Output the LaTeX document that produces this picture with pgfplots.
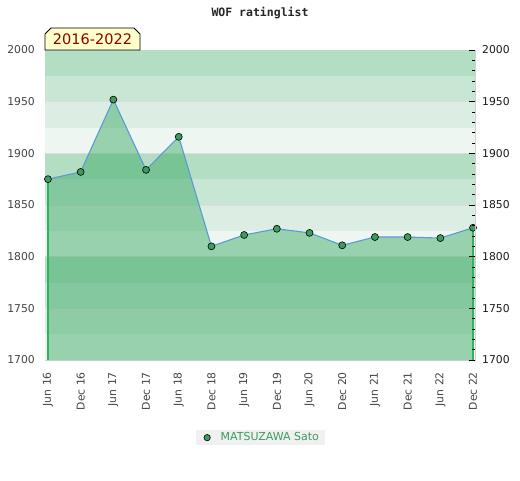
\documentclass[border=0pt]{standalone}
\usepackage{pgfplots}
\pgfplotsset{compat=1.18}
\usepackage{pgfplotstable}
\usepackage{fontspec}
\setmainfont{DejaVu Sans}
\setmonofont{DejaVu Sans Mono}
\definecolor{bandA}{HTML}{B3DEC3}
\definecolor{bandB}{HTML}{C8E6D4}
\definecolor{bandC}{HTML}{DCEDE3}
\definecolor{bandD}{HTML}{EEF6F1}
\definecolor{areagreen}{RGB}{51,166,95}
\definecolor{markgreen}{HTML}{3A9D5D}
\definecolor{lineblue}{HTML}{5B9BD5}
\definecolor{edgegreen}{HTML}{2FB35E}
\definecolor{boxyellow}{HTML}{FFFFCC}
\definecolor{darkred}{HTML}{8B0000}
\definecolor{labelgray}{HTML}{444444}
\definecolor{framegray}{HTML}{D0D0D0}
\definecolor{gridgray}{HTML}{DDDDDD}

\pgfplotstableread{
x y
0 1875
1 1882
2 1952
3 1884
4 1916
5 1810
6 1821
7 1827
8 1823
9 1811
10 1819
11 1819
12 1818
13 1828
}\ratings

\pgfplotstableread{
x y
0 1700
0 1875
}\leftedge
\pgfplotstableread{
x y
13 1700
13 1828
}\rightedge

\newcommand{\band}[3]{\addplot[forget plot, draw=none, fill=#1] coordinates {(-0.09,#2) (13.06,#2) (13.06,#3) (-0.09,#3)} -- cycle;}
\newcommand{\gline}[1]{\addplot[forget plot, gridgray, line width=0.5pt] coordinates {(-0.09,#1) (13.06,#1)};}

\begin{document}
\begin{tikzpicture}
\useasboundingbox (0pt,0pt) rectangle (520pt,480pt);
\begin{axis}[
  at={(45pt,120pt)}, anchor=south west,
  scale only axis, width=430pt, height=310pt,
  xmin=-0.09, xmax=13.06, ymin=1700, ymax=2000,
  xtick={0,...,13},
  xticklabels={Jun 16,Dec 16,Jun 17,Dec 17,Jun 18,Dec 18,Jun 19,Dec 19,Jun 20,Dec 20,Jun 21,Dec 21,Jun 22,Dec 22},
  ytick={1700,1750,...,2000},
  axis line style={draw=framegray, line width=0.9pt},
  major tick length=0pt, minor tick length=0pt,
  tick style={draw=none},
  xticklabel style={rotate=90, anchor=east, inner sep=0pt, font=\fontsize{10.8}{12}\selectfont, text=labelgray},
  xticklabel shift=12pt,
  yticklabel style={inner sep=0pt, font=\fontsize{10.8}{12}\selectfont, text=labelgray},
  yticklabel shift=10pt,
  /pgf/number format/assume math mode=true,
  /pgf/number format/1000 sep={},
  legend style={at={(0.501,-0.2505)}, anchor=center, draw=none, fill=gray!12,
    font=\fontsize{11}{12}\selectfont, text=markgreen, inner xsep=4pt, inner ysep=0.8pt},
  legend cell align=left,
]
\band{bandA}{1975}{2000}
\band{bandB}{1950}{1975}
\band{bandC}{1925}{1950}
\band{bandD}{1900}{1925}
\band{bandA}{1875}{1900}
\band{bandB}{1850}{1875}
\band{bandC}{1825}{1850}
\band{bandD}{1800}{1825}
\band{bandA}{1775}{1800}
\band{bandB}{1750}{1775}
\band{bandC}{1725}{1750}
\band{bandD}{1700}{1725}
\gline{1750}
\gline{1800}
\gline{1850}
\gline{1900}
\gline{1950}
\addplot[forget plot, draw=none, fill=areagreen, fill opacity=0.46] table[x=x,y=y] {\ratings} \closedcycle;
\addplot[forget plot, draw=edgegreen, line width=1.3pt, mark=none] table[x=x,y=y] {\leftedge};
\addplot[forget plot, draw=edgegreen, line width=1.3pt, mark=none] table[x=x,y=y] {\rightedge};
\addplot[forget plot, lineblue, line width=1.1pt, mark=*, mark size=3.5pt,
  mark options={fill=markgreen, draw=black, line width=0.6pt}] table[x=x,y=y] {\ratings};
\addlegendimage{legend image code/.code={
  \path (-7pt,0pt) (11.3pt,0pt);
  \draw[fill=markgreen, draw=black, line width=0.6pt] (0pt,0pt) circle (3.2pt);}}
\addlegendentry{MATSUZAWA Sato}
\end{axis}
\begin{axis}[
  at={(45pt,120pt)}, anchor=south west,
  scale only axis, width=430pt, height=310pt,
  xmin=-0.09, xmax=13.06, ymin=1700, ymax=2000,
  axis x line=none, axis y line*=right,
  axis line style={draw=framegray, line width=0.9pt},
  ytick={1700,1750,...,2000}, minor y tick num=4,
  tick align=inside,
  major tick length=6pt, minor tick length=3pt,
  tick style={draw=black, line width=0.8pt},
  yticklabel style={inner sep=0pt, font=\fontsize{10.8}{12}\selectfont, text=black!90},
  yticklabel shift=7pt,
  /pgf/number format/assume math mode=true,
  /pgf/number format/1000 sep={},
]
\addplot[draw=none] coordinates {(0,1700)};
\end{axis}
\node[font=\ttfamily\bfseries\fontsize{11.5}{12}\selectfont, text=black!85] at (260pt,467pt) {WOF ratinglist};
\draw[fill=boxyellow, draw=black, line width=0.8pt] (45pt,430pt) -- (45pt,446pt) -- (51pt,452pt) -- (134pt,452pt) -- (140pt,446pt) -- (140pt,430pt) -- cycle;
\node[font=\fontsize{14.5}{16}\selectfont, text=darkred] at (92.5pt,440.5pt) {2016-2022};
\end{tikzpicture}
\end{document}
